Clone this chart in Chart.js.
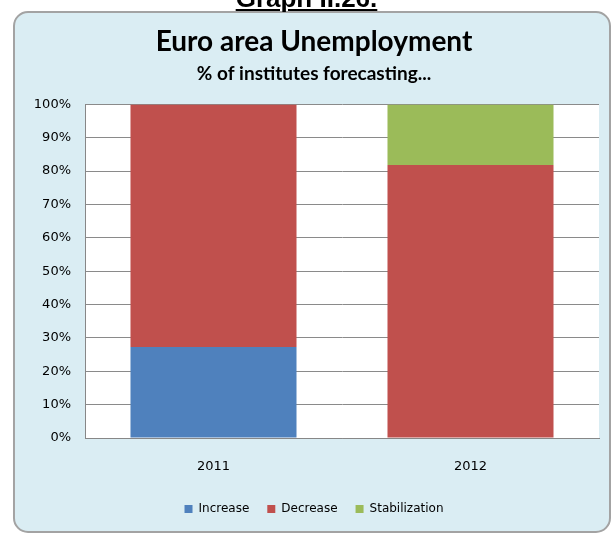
<!DOCTYPE html>
<html>
<head>
<meta charset="utf-8">
<script src="https://cdn.jsdelivr.net/npm/chart.js@4/dist/chart.umd.min.js"></script>
<style>
  body { margin: 0; background: #fff; }
  #wrap { position: relative; width: 613px; height: 534px; overflow: hidden; }
  #graphNo {
    position: absolute; left: 0; width: 613px; top: -15px; text-align: center;
    font: bold 26px "Liberation Sans", Arial, sans-serif;
    line-height: 26px; text-decoration: underline; color: #000;
  }
  canvas { position: absolute; left: 0; top: 0; }
</style>
</head>
<body>
<div id="wrap">
  <canvas id="chartCanvasUnemployment" width="613" height="534"></canvas>
  <div id="graphNo">Graph II.26.</div>
</div>
<script>
const years = ["2011", "2012"];
const increase = [27.3, 0];
const decrease = [72.7, 81.8];
const stabilization = [0, 18.2];
const yTicks = [0, 10, 20, 30, 40, 50, 60, 70, 80, 90, 100];

// fond bleu arrondi + zone de tracé blanche
const boxBackground = {
    id: "boxBackground",
    beforeDraw(chart) {
        const ctx = chart.ctx;
        const a = chart.chartArea;
        ctx.save();
        ctx.beginPath();
        ctx.roundRect(14, 12, 596, 520, 14);
        ctx.fillStyle = "#DAEDF3";
        ctx.fill();
        ctx.lineWidth = 2;
        ctx.strokeStyle = "#a3a3a3";
        ctx.stroke();
        ctx.fillStyle = "#ffffff";
        ctx.fillRect(a.left, a.top, a.right - a.left, a.bottom - a.top);
        ctx.restore();
    }
};

const ctx = document.getElementById("chartCanvasUnemployment").getContext("2d");
new Chart(ctx, {
    type: "bar",
    plugins: [boxBackground],
    data: {
        labels: years,
        datasets: [
            { label: "Increase", data: increase, backgroundColor: "#4F81BD", borderWidth: 0 },
            { label: "Decrease", data: decrease, backgroundColor: "#C0504D", borderWidth: 0 },
            { label: "Stabilization", data: stabilization, backgroundColor: "#9BBB59", borderWidth: 0 },
        ],
    },
    options: {
        responsive: false,
        animation: false,
        barPercentage: 0.646,
        categoryPercentage: 1,
        layout: { padding: { left: 29, right: 14, top: 0, bottom: 9 } },
        plugins: {
            tooltip: { enabled: false },
            title: {
                display: true,
                text: "Euro area Unemployment",
                color: "#000",
                font: { family: "Lato", size: 28, weight: "bold" },
                padding: { top: 25, bottom: 2 },
            },
            subtitle: {
                display: true,
                text: "% of institutes forecasting...",
                color: "#000",
                font: { family: "Lato", size: 19, weight: "bold" },
                padding: { top: 2, bottom: 19 },
            },
            legend: {
                position: "bottom",
                labels: {
                    boxWidth: 8,
                    boxHeight: 8,
                    padding: 18,
                    color: "#000",
                    font: { family: "DejaVu Sans", size: 12 },
                },
            },
        },
        scales: {
            x: {
                stacked: true,
                grid: { display: false, drawTicks: false },
                border: { color: "#878787", width: 1 },
                ticks: { color: "#000", padding: 21, font: { family: "DejaVu Sans", size: 13 } },
                afterFit: (s) => { s.height = 47; },
            },
            y: {
                stacked: true,
                min: 0,
                max: 100,
                afterBuildTicks: (s) => { s.ticks = yTicks.map((v) => ({ value: v })); },
                grid: { color: "#8a8a8a", drawTicks: false },
                border: { color: "#878787", width: 1 },
                ticks: {
                    color: "#000",
                    padding: 14,
                    font: { family: "DejaVu Sans", size: 13 },
                    callback: (v) => v + "%",
                },
                afterFit: (s) => { s.width = 56; },
            },
        },
    },
});
</script>
</body>
</html>
